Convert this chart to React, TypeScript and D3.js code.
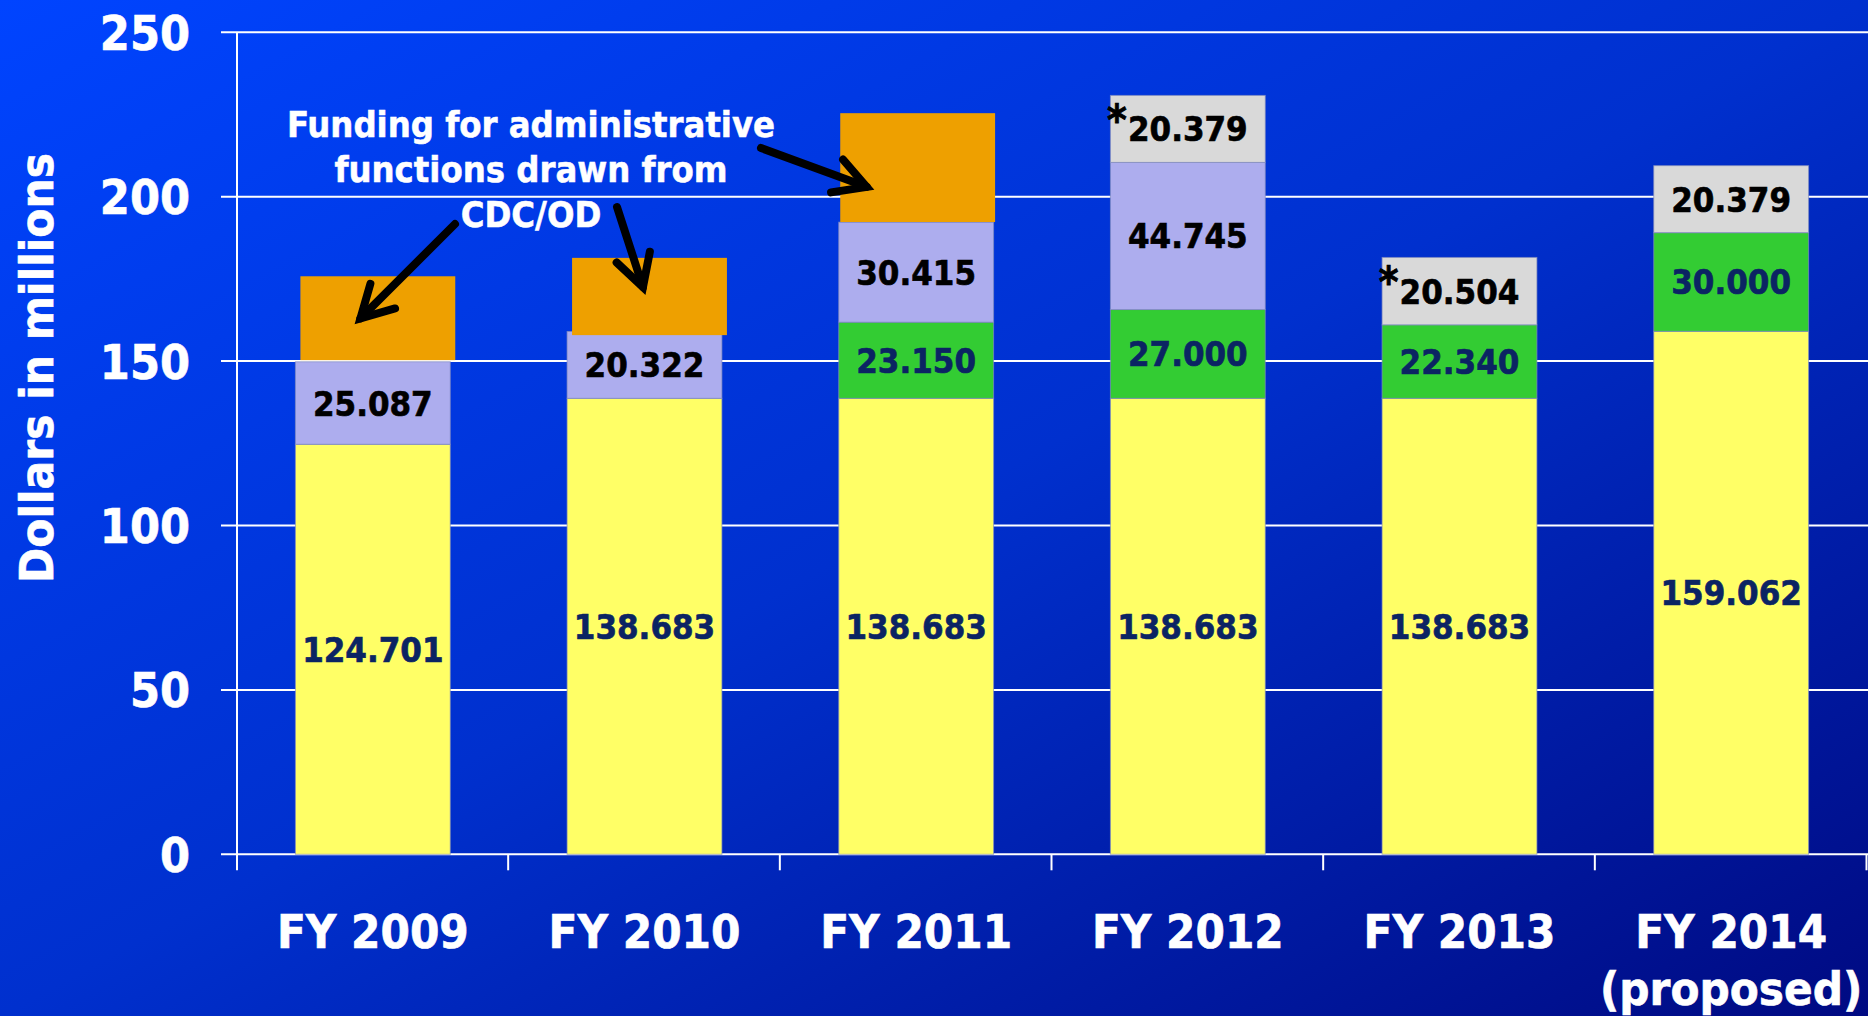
import React from "react";
import * as d3 from "d3";

// ---------- DATA ----------
const categories = ["FY 2009", "FY 2010", "FY 2011", "FY 2012", "FY 2013", "FY 2014"];
const categorySubLabels = ["", "", "", "", "", "(proposed)"];
const baseFunding = [124.701, 138.683, 138.683, 138.683, 138.683, 159.062];
const greenFunding = [0, 0, 23.15, 27.0, 22.34, 30.0];
const lavenderFunding = [25.087, 20.322, 30.415, 44.745, 0, 0];
const grayFunding = [0, 0, 0, 20.379, 20.504, 20.379];
const adminStart = [150.3, 157.9, 192.3, 0, 0, 0];
const adminEnd = [175.8, 181.4, 225.4, 0, 0, 0];
const asteriskFlags = [false, false, false, true, true, false];
const yTicks = [0, 50, 100, 150, 200, 250];
const annotationLines = ["Funding for administrative", "functions drawn from", "CDC/OD"];

// ---------- LAYOUT / STYLE ----------
const W = 1868;
const H = 1016;
const X0 = 237;
const X1 = 1867;
const Y_TOP = 32.3;
const Y_ZERO = 854.3;
const FONT = "'DejaVu Sans Condensed', 'DejaVu Sans', sans-serif";
const keys = ["base", "green", "lavender", "gray"] as const;
const fills: Record<string, string> = {
  base: "#FFFF66",
  green: "#33CC33",
  lavender: "#ADADEE",
  gray: "#D9D9D9",
};
const labelColors: Record<string, string> = {
  base: "#0B2463",
  green: "#0B2463",
  lavender: "#000000",
  gray: "#000000",
};
const ORANGE = "#EEA000";
const orangeNudge = [5, 5, 1.5, 0, 0, 0];

// arrow annotations: tail in px, tip from the scales (category, fraction of bar width, value)
const arrows = [
  { tail: [455, 224], cat: "FY 2009", frac: 0.42, value: 163 },
  { tail: [617, 207], cat: "FY 2010", frac: 0.49, value: 172.5 },
  { tail: [761, 148], cat: "FY 2011", frac: 0.18, value: 203 },
];

export default function App() {
  const x = d3
    .scaleBand<string>()
    .domain(categories)
    .range([X0, X1])
    .paddingInner(0.43)
    .paddingOuter(0.215);
  const y = d3.scaleLinear().domain([0, 250]).range([Y_ZERO, Y_TOP]);
  const step = x.step();
  const bw = x.bandwidth();

  const rows = categories.map((c, i) => ({
    cat: c,
    base: baseFunding[i],
    green: greenFunding[i],
    lavender: lavenderFunding[i],
    gray: grayFunding[i],
  }));
  const stack = d3.stack<any>().keys(keys as any)(rows);
  const fmt = d3.format(".3f");

  const segs: any[] = [];
  stack.forEach((layer) => {
    layer.forEach((d, i) => {
      const v = d[1] - d[0];
      if (v <= 0) return;
      segs.push({ key: layer.key, i, y0: d[0], y1: d[1], v });
    });
  });

  const arrowPaths = arrows.map((a) => {
    const tx = (x(a.cat) as number) + bw * a.frac;
    const ty = y(a.value);
    const [sx, sy] = a.tail;
    const ang = Math.atan2(sy - ty, sx - tx);
    const L = 36;
    const ha = (29 * Math.PI) / 180;
    const p1 = [tx + L * Math.cos(ang + ha), ty + L * Math.sin(ang + ha)];
    const p2 = [tx + L * Math.cos(ang - ha), ty + L * Math.sin(ang - ha)];
    const shaft = d3.path();
    shaft.moveTo(sx, sy);
    shaft.lineTo(tx, ty);
    const head = d3.path();
    head.moveTo(p1[0], p1[1]);
    head.lineTo(tx, ty);
    head.lineTo(p2[0], p2[1]);
    return { shaft: shaft.toString(), head: head.toString() };
  });

  return (
    <svg
      width={W}
      height={H}
      viewBox={`0 0 ${W} ${H}`}
      style={{ position: "absolute", left: 0, top: 0, display: "block" }}
      fontFamily={FONT}
      fontWeight="bold"
    >
      <defs>
        <linearGradient id="bg" x1="0" y1="0" x2="1" y2="1">
          <stop offset="0" stopColor="#0044FF" />
          <stop offset="0.5" stopColor="#0030CE" />
          <stop offset="1" stopColor="#000A82" />
        </linearGradient>
      </defs>
      <rect x={0} y={0} width={W} height={H} fill="url(#bg)" />

      {/* gridlines */}
      {yTicks.map((t) => (
        <line key={t} x1={221} x2={W} y1={y(t)} y2={y(t)} stroke="#FFFFFF" strokeWidth={2} />
      ))}
      {/* axis */}
      <line x1={X0} x2={X0} y1={Y_TOP} y2={Y_ZERO + 16} stroke="#FFFFFF" strokeWidth={2} />
      {categories.map((c, i) => (
        <line
          key={c}
          x1={X0 + step * (i + 1) - 0.5}
          x2={X0 + step * (i + 1) - 0.5}
          y1={Y_ZERO}
          y2={Y_ZERO + 16}
          stroke="#FFFFFF"
          strokeWidth={2}
        />
      ))}

      {/* y tick labels */}
      {yTicks.map((t) => (
        <text
          key={t}
          x={190}
          y={y(t) + 17.5}
          textAnchor="end"
          fill="#FFFFFF"
          stroke="#FFFFFF"
          strokeWidth={0.6}
          fontSize={48}
        >
          {t}
        </text>
      ))}

      {/* y title */}
      <text
        transform={`translate(52.7, 368) rotate(-90)`}
        textAnchor="middle"
        fill="#FFFFFF"
        stroke="#FFFFFF"
        strokeWidth={0.6}
        fontSize={47}
        textLength={430}
        lengthAdjust="spacingAndGlyphs"
      >
        Dollars in millions
      </text>

      {/* stacked bars */}
      {segs.map((s, k) => (
        <rect
          key={k}
          x={x(categories[s.i])}
          y={y(s.y1)}
          width={bw}
          height={y(s.y0) - y(s.y1)}
          fill={fills[s.key]}
          stroke="rgba(130,140,190,0.7)"
          strokeWidth={1}
        />
      ))}

      {/* admin funding blocks */}
      {adminEnd.map((v, i) =>
        v > 0 ? (
          <rect
            key={i}
            x={(x(categories[i]) as number) + orangeNudge[i]}
            y={y(v)}
            width={bw}
            height={y(adminStart[i]) - y(v)}
            fill={ORANGE}
          />
        ) : null
      )}

      {/* segment labels */}
      {segs.map((s, k) => {
        const cx = (x(categories[s.i]) as number) + bw / 2;
        const cy = (y(s.y0) + y(s.y1)) / 2;
        const star = s.key === "gray" && asteriskFlags[s.i];
        return (
          <g key={k}>
            <text
              x={cx}
              y={cy + 12.5}
              textAnchor="middle"
              fill={labelColors[s.key]}
              stroke={labelColors[s.key]}
              strokeWidth={0.6}
              fontSize={34.5}
            >
              {fmt(s.v)}
            </text>
            {star ? (
              <text
                x={cx - 71}
                y={cy + 6}
                textAnchor="middle"
                fill="#000000"
                stroke="#000000"
                strokeWidth={0.8}
                fontSize={42}
              >
                *
              </text>
            ) : null}
          </g>
        );
      })}

      {/* x labels */}
      {categories.map((c, i) => {
        const cx = (x(c) as number) + bw / 2;
        return (
          <g key={c} fill="#FFFFFF" stroke="#FFFFFF" strokeWidth={0.6}>
            <text x={cx} y={948} textAnchor="middle" fontSize={47}>
              {c}
            </text>
            {categorySubLabels[i] ? (
              <text x={cx} y={1005} textAnchor="middle" fontSize={47}>
                {categorySubLabels[i]}
              </text>
            ) : null}
          </g>
        );
      })}

      {/* annotation */}
      {annotationLines.map((l, i) => (
        <text
          key={i}
          x={531}
          y={137 + i * 45}
          textAnchor="middle"
          fill="#FFFFFF"
          stroke="#FFFFFF"
          strokeWidth={0.5}
          fontSize={36}
        >
          {l}
        </text>
      ))}
      {arrowPaths.map((a, i) => (
        <g key={i} fill="none" stroke="#000000" strokeWidth={8}>
          <path d={a.shaft} strokeLinecap="round" />
          <path d={a.head} strokeLinecap="round" strokeLinejoin="miter" />
        </g>
      ))}
    </svg>
  );
}
